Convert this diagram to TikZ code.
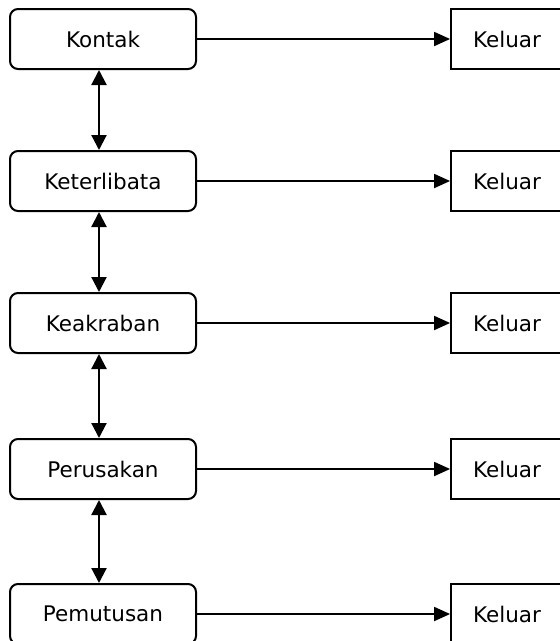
\documentclass[tikz,border=0pt]{standalone}
\usepackage{fontspec}
\setmainfont{DejaVu Sans}
\usetikzlibrary{arrows.meta}
\tikzset{
  stage/.style={draw, line width=2pt, rounded corners=8pt, minimum width=186pt, minimum height=60pt, inner sep=0pt, font=\fontsize{21.5}{25}\selectfont},
  exitbox/.style={draw, line width=1.8pt, minimum width=112pt, minimum height=60pt, inner sep=0pt, font=\fontsize{21.5}{25}\selectfont},
  flow/.style={line width=1.8pt, -{Triangle[length=16pt,width=14pt]}},
  link/.style={line width=2.2pt, {Triangle[length=15pt,width=15pt]}-{Triangle[length=15pt,width=15pt]}}
}
\begin{document}
\begin{tikzpicture}[x=1pt,y=-1pt]
\useasboundingbox[fill=white] (0,0) rectangle (560,641);
\node[stage] (k1) at (103,39) {Kontak};
\node[stage] (k2) at (103,181) {Keterlibata};
\node[stage] (k3) at (103,323) {Keakraban};
\node[stage] (k4) at (103,469) {Perusakan};
\node[stage] (k5) at (103,614) {Pemutusan};
\node[exitbox] (o1) at (507,39) {Keluar};
\node[exitbox] (o2) at (507,181) {Keluar};
\node[exitbox] (o3) at (507,323) {Keluar};
\node[exitbox] (o4) at (507,469) {Keluar};
\node[exitbox] (o5) at (507,614) {Keluar};
\foreach \i in {1,...,5} {
  \draw[flow] (k\i.east) -- (o\i.west);
}
\foreach \i/\j in {1/2,2/3,3/4,4/5} {
  \draw[link] ([xshift=-4pt]k\i.south) -- ([xshift=-4pt]k\j.north);
}
\end{tikzpicture}
\end{document}
